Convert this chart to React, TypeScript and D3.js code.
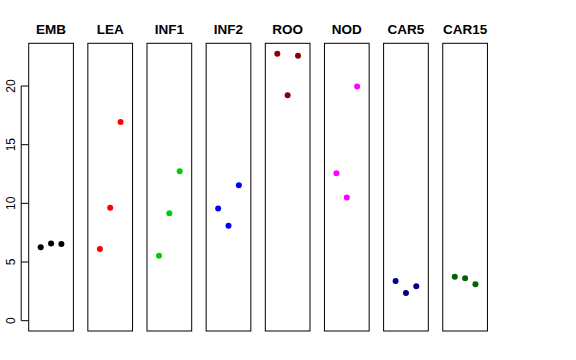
import React from "react";
import * as d3 from "d3";

const groups = ["EMB", "LEA", "INF1", "INF2", "ROO", "NOD", "CAR5", "CAR15"];
const colors = ["#000000", "#ff0000", "#00cd00", "#0000ff", "#8b0000", "#ff00ff", "#00008b", "#006400"];
const rep1 = [6.26, 6.11, 5.54, 9.55, 22.76, 12.56, 3.38, 3.75];
const rep2 = [6.57, 9.63, 9.15, 8.10, 19.21, 10.49, 2.36, 3.61];
const rep3 = [6.54, 16.94, 12.73, 11.54, 22.57, 19.95, 2.93, 3.10];
const yTicks = [0, 5, 10, 15, 20];

const width = 576;
const height = 360;
const top = 43.3;
const bottom = 331;
const firstLeft = 28.7;
const panelStep = 59.15;
const panelW = 44.7;

export default function App() {
  const y = d3.scaleLinear().domain([-0.88, 23.64]).range([bottom, top]);
  const x = d3.scaleLinear().domain([-0.16, 4.16]).range([0, panelW]);
  const reps = [rep1, rep2, rep3];

  return (
    <svg width={width} height={height} style={{ position: "absolute", left: 0, top: 0 }}
      fontFamily="Liberation Sans, Arial, sans-serif">
      <rect width={width} height={height} fill="#fff" />
      {groups.map((g, i) => {
        const left = firstLeft + i * panelStep;
        return (
          <g key={g} transform={`translate(${left},0)`}>
            <text x={panelW / 2} y={34} textAnchor="middle" fontWeight="bold" fontSize={13.5}>{g}</text>
            <rect x={0} y={top} width={panelW} height={bottom - top} fill="none" stroke="#000" strokeWidth={1} />
            {reps.map((r, j) => (
              <circle key={j} cx={x(j + 1)} cy={y(r[i])} r={3} fill={colors[i]} />
            ))}
          </g>
        );
      })}
      <g transform={`translate(${firstLeft},0)`}>
        <line x1={-7.5} x2={-7.5} y1={y(0)} y2={y(20)} stroke="#000" />
        {yTicks.map((t) => (
          <g key={t} transform={`translate(0,${y(t)})`}>
            <line x1={-7.5} x2={0} stroke="#000" />
            <text transform="translate(-14,0) rotate(-90)" textAnchor="middle" fontSize={12}>{t}</text>
          </g>
        ))}
      </g>
    </svg>
  );
}
